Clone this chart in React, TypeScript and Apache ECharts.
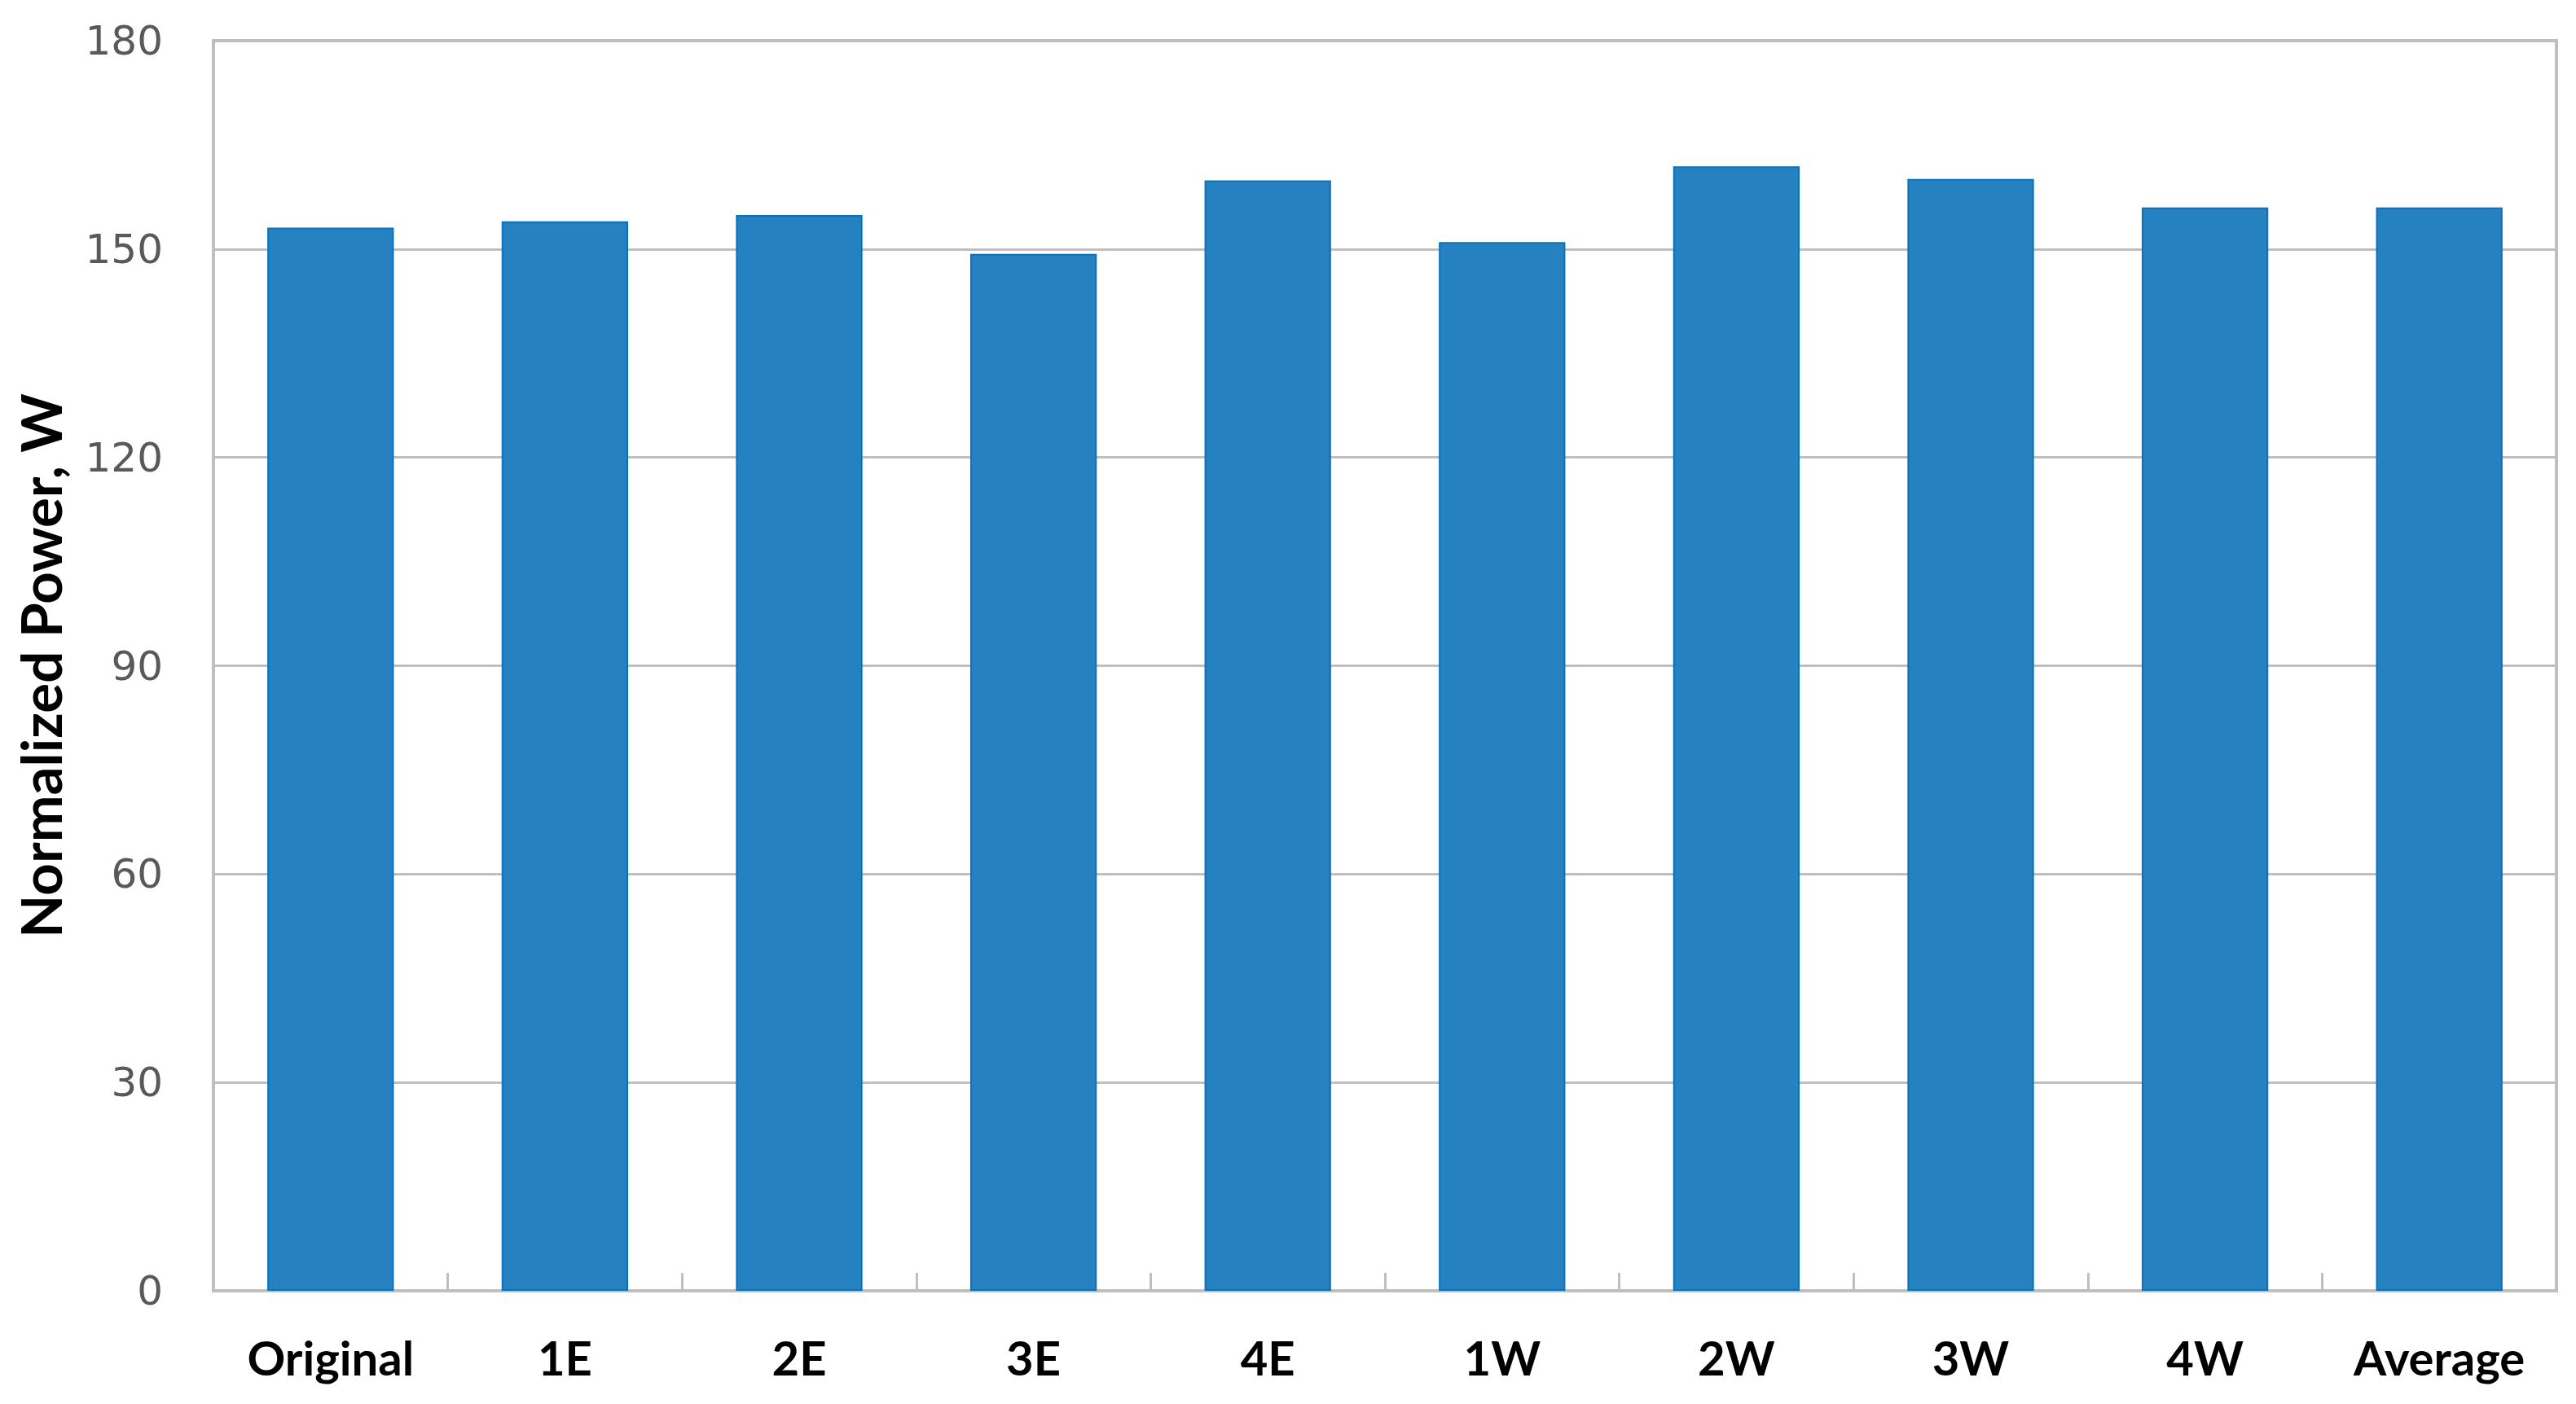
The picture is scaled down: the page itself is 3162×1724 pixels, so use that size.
import React, { useEffect, useRef } from "react";
import * as echarts from "echarts";

const categories = ["Original", "1E", "2E", "3E", "4E", "1W", "2W", "3W", "4W", "Average"];
const normalizedPower = [153.1, 154.0, 154.9, 149.3, 159.9, 151.0, 161.9, 160.1, 156.0, 156.0];
const yMin = 0;
const yMax = 180;
const yInterval = 30;
const yTitle = "Normalized Power, W";

export default function App() {
  const ref = useRef<HTMLDivElement>(null);
  useEffect(() => {
    document.body.style.margin = "0";
    document.body.style.overflow = "hidden";
    const chart = echarts.init(ref.current!, null, { renderer: "svg" });
    const gray = "#BFBFBF";
    chart.setOption({
      animation: false,
      backgroundColor: "#FFFFFF",
      grid: {
        left: 262,
        right: 24,
        top: 50,
        bottom: 139,
        show: true,
        borderColor: gray,
        borderWidth: 4,
      },
      xAxis: {
        type: "category",
        data: categories,
        boundaryGap: true,
        axisLine: { show: true, lineStyle: { color: gray, width: 4 } },
        axisTick: { show: true, inside: true, length: 22, lineStyle: { color: gray, width: 3 } },
        axisLabel: {
          color: "#000000",
          fontFamily: "Lato",
          fontWeight: "bold",
          fontSize: 58,
          margin: 52,
        },
        splitLine: { show: false },
      },
      yAxis: {
        type: "value",
        min: yMin,
        max: yMax,
        interval: yInterval,
        name: yTitle,
        nameLocation: "middle",
        nameGap: 178,
        nameRotate: 90,
        nameTextStyle: {
          color: "#000000",
          fontFamily: "Lato",
          fontWeight: "bold",
          fontSize: 69,
        },
        axisLine: { show: true, lineStyle: { color: gray, width: 4 } },
        axisTick: { show: false },
        axisLabel: {
          color: "#595959",
          fontFamily: "DejaVu Sans",
          fontSize: 50,
          margin: 62,
        },
        splitLine: { show: true, lineStyle: { color: gray, width: 3 } },
      },
      series: [
        {
          type: "bar",
          data: normalizedPower,
          barWidth: "54%",
          itemStyle: { color: "#2681C1", borderColor: "#0A72BC", borderWidth: 2 },
        },
      ],
    });
    return () => chart.dispose();
  }, []);
  return <div ref={ref} style={{ width: 3162, height: 1724 }} />;
}
